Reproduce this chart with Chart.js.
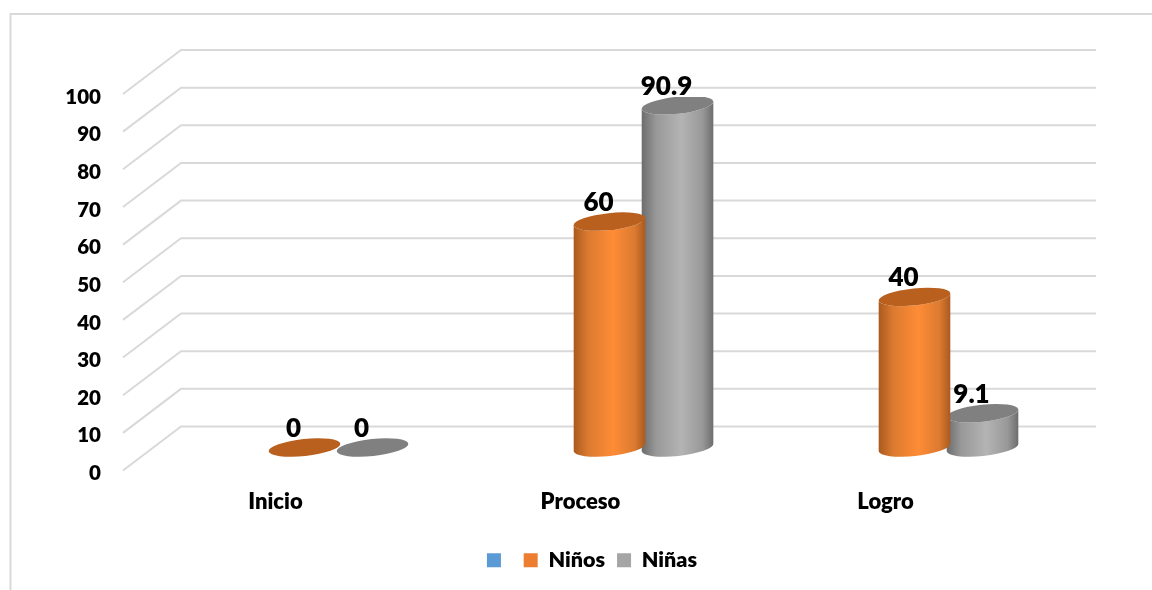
<!DOCTYPE html>
<html>
<head>
<meta charset="utf-8">
<title>Niños y Niñas</title>
<script src="https://cdn.jsdelivr.net/npm/chart.js@4/dist/chart.umd.min.js"></script>
<style>
    html, body { margin: 0; padding: 0; background: #fff; }
    #wrap { width: 1152px; height: 590px; }
</style>
</head>
<body>
<div id="wrap"><canvas id="barChart" width="1152" height="590"></canvas></div>
<script>
const categorias = ['Inicio', 'Proceso', 'Logro'];
const serieVacia = [null, null, null];
const ninos = [0, 60, 40];
const ninas = [0, 90.9, 9.1];

const colorGrid = '#D9D9D9';
const fuente = 'Lato, Carlito, sans-serif';

// floor depth of the pseudo 3D box
const fondoX = 58;
const fondoY = 44;
// tick labels sit a little below the front end of their grid line
const alzado = 3;

// cylinder shading per series colour
const tonos = {
    '#ED7D31': { tapa: '#B9601F', borde: '#A9591F', medio: '#DB7A30', luz: '#FF8C36' },
    '#A5A5A5': { tapa: '#808080', borde: '#6C6C6C', medio: '#989898', luz: '#B4B4B4' }
};

// bar element painted as a tilted cylinder standing mid-depth on the floor
class CilindroElement extends Chart.BarElement {
    static id = 'cilindro';
    static defaults = Chart.BarElement.defaults;
    static defaultRoutes = Chart.BarElement.defaultRoutes;

    draw(ctx) {
        const { x, y, base, width } = this.getProps(['x', 'y', 'base', 'width']);
        if (isNaN(y) || isNaN(base)) return;
        const tono = tonos[this.options.backgroundColor];
        if (!tono) return;

        const cx = x + fondoX / 2;
        const arriba = y - fondoY / 2 - alzado - 1;
        const abajo = base - fondoY / 2 - alzado - 1;
        const rx = width / 2 + 2;
        const ry = 8.5;
        const giro = -6 * Math.PI / 180;

        ctx.save();
        if (abajo - arriba > 0.5) {
            const grad = ctx.createLinearGradient(cx - rx, 0, cx + rx, 0);
            grad.addColorStop(0, tono.borde);
            grad.addColorStop(0.2, tono.medio);
            grad.addColorStop(0.55, tono.luz);
            grad.addColorStop(0.85, tono.medio);
            grad.addColorStop(1, tono.borde);
            ctx.fillStyle = grad;
            // side wall, closed by the lower half of the base ellipse
            ctx.beginPath();
            ctx.ellipse(cx, arriba, rx, ry, giro, Math.PI, 0, true);
            ctx.ellipse(cx, abajo, rx, ry, giro, 0, Math.PI, false);
            ctx.closePath();
            ctx.fill();
        }
        ctx.fillStyle = tono.tapa;
        ctx.beginPath();
        ctx.ellipse(cx, arriba, rx, ry, giro, 0, Math.PI * 2);
        ctx.fill();
        ctx.restore();
    }
}

class CilindroController extends Chart.BarController {
    static id = 'cilindro';
    static defaults = { ...Chart.BarController.defaults, dataElementType: 'cilindro' };
    static overrides = Chart.BarController.overrides;
}

Chart.register(CilindroElement, CilindroController);

// outer frame, side wall lines and back wall lines
const cajaFondo = {
    id: 'cajaFondo',
    beforeDraw(chart) {
        const { ctx, chartArea, scales } = chart;
        ctx.save();
        ctx.strokeStyle = colorGrid;
        ctx.lineWidth = 2;
        ctx.beginPath();
        ctx.moveTo(10.5, 590);
        ctx.lineTo(10.5, 14);
        ctx.lineTo(1152, 14);
        ctx.stroke();
        scales.y.ticks.forEach(t => {
            const py = scales.y.getPixelForValue(t.value) - alzado;
            ctx.beginPath();
            ctx.moveTo(chartArea.left, py);
            ctx.lineTo(chartArea.left + fondoX, py - fondoY);
            ctx.lineTo(chartArea.right + fondoX, py - fondoY);
            ctx.stroke();
        });
        ctx.restore();
    },
    afterLayout(chart) {
        // legend sits under the cylinders, not under the whole canvas
        chart.legend.left += 73;
        chart.legend.right += 73;
    }
};

// value labels above each cylinder
const etiquetasValor = {
    id: 'etiquetasValor',
    afterDatasetsDraw(chart) {
        const { ctx } = chart;
        ctx.save();
        ctx.font = '800 26px ' + fuente;
        ctx.fillStyle = '#000';
        ctx.textAlign = 'center';
        ctx.textBaseline = 'middle';
        chart.data.datasets.forEach((ds, i) => {
            chart.getDatasetMeta(i).data.forEach((el, j) => {
                if (ds.data[j] === null) return;
                ctx.fillText(String(ds.data[j]), el.x + 18, el.y - 45);
            });
        });
        ctx.restore();
    }
};

new Chart(document.getElementById('barChart').getContext('2d'), {
    type: 'cilindro',
    data: {
        labels: categorias,
        datasets: [
            { label: '', data: serieVacia, backgroundColor: '#5B9BD5' },
            { label: 'Niños', data: ninos, backgroundColor: '#ED7D31' },
            { label: 'Niñas', data: ninas, backgroundColor: '#A5A5A5' }
        ]
    },
    options: {
        responsive: false,
        animation: false,
        categoryPercentage: 0.669,
        barPercentage: 1,
        layout: { padding: { left: 0, right: 114, top: 97, bottom: 9 } },
        scales: {
            x: {
                type: 'category',
                offset: true,
                grid: { display: false },
                border: { display: false },
                ticks: {
                    color: '#000',
                    font: { family: fuente, weight: '800', size: 22 },
                    padding: 7,
                    maxRotation: 0
                },
                afterFit(scale) { scale.height = 64; }
            },
            y: {
                type: 'linear',
                min: 0,
                max: 100,
                grid: { display: false },
                border: { display: false },
                ticks: {
                    stepSize: 10,
                    color: '#000',
                    font: { family: fuente, weight: '800', size: 20.5 },
                    padding: 14
                },
                afterFit(scale) { scale.width = 123; }
            }
        },
        plugins: {
            legend: {
                position: 'bottom',
                labels: {
                    boxWidth: 14,
                    boxHeight: 14,
                    padding: 12,
                    color: '#000',
                    font: { family: fuente, weight: '800', size: 21.5 }
                }
            },
            tooltip: { enabled: false }
        }
    },
    plugins: [cajaFondo, etiquetasValor]
});
</script>
</body>
</html>
